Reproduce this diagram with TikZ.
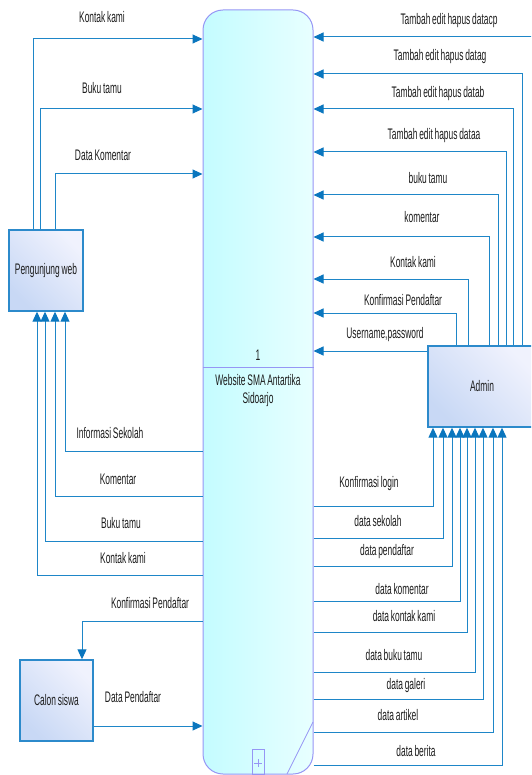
\documentclass[tikz,border=0pt]{standalone}
\usepackage{fontspec}
\setmainfont{Liberation Sans}[FakeStretch=0.55,WordSpace=0.75]
\usetikzlibrary{arrows.meta}
\definecolor{lineblue}{RGB}{30,134,200}
\definecolor{tipblue}{RGB}{10,118,190}
\definecolor{entA}{RGB}{200,216,245}
\definecolor{entB}{RGB}{240,242,253}
\definecolor{entborder}{RGB}{44,138,203}
\definecolor{procA}{RGB}{196,252,255}
\definecolor{procB}{RGB}{232,255,255}
\definecolor{procborder}{RGB}{150,150,245}
\definecolor{txt}{RGB}{28,28,28}
\tikzset{
  flow/.style={draw=lineblue, line width=1pt, -{Triangle[length=10pt,width=9pt,color=tipblue]}},
  lbl/.style={font=\fontsize{15.3}{18}\selectfont, text=txt, inner sep=0pt},
  entity/.style={draw=entborder, line width=1.4pt, left color=entA, right color=entB, shading angle=135,
    font=\fontsize{15.3}{18}\selectfont, text=txt, inner sep=0pt},
}
\begin{document}
\begin{tikzpicture}[x=1pt,y=-1pt]
\useasboundingbox (0,0) rectangle (531,775);
\clip (0,0) rectangle (531,775);
% process
\node[draw=procborder, line width=1pt, rounded corners=20pt, left color=procA, right color=procB,
  minimum width=110pt, minimum height=764pt, inner sep=0pt] (P) at (258,392) {};
\draw[procborder, line width=1pt] (P.west |- 0,367) -- (P.east |- 0,367);
\node[lbl] (pnum) at (258,355) {1};
\node[lbl, align=center] (pname) at (258,391) {Website SMA Antartika\\Sidoarjo};
\node[draw=procborder, line width=0.8pt, minimum width=12pt, minimum height=25pt, inner sep=0pt] (plus) at (258,761.5) {};
\draw[procborder, line width=0.8pt] (254,763) -- (262,763) (258,759) -- (258,767);
\draw[procborder, line width=0.8pt] (313,722) -- (287,774);
% entities
\node[entity, minimum width=74pt, minimum height=81pt] (PW) at (46,270.5) {Pengunjung web};
\node[entity, minimum width=73pt, minimum height=81pt] (CS) at (56.5,700.5) {Calon siswa};
\node[entity, minimum width=108pt, minimum height=81pt] (AD) at (482,386.5) {Admin};
% pengunjung web -> process
\draw[flow] (PW.north -| 33,0) |- (P.west |- 0,39);
\draw[flow] (PW.north -| 40,0) |- (P.west |- 0,109);
\draw[flow] (PW.north -| 55,0) |- (P.west |- 0,174);
\node[lbl] (l1) at (102,17) {Kontak kami};
\node[lbl] (l2) at (102,88) {Buku tamu};
\node[lbl] (l3) at (103,155) {Data Komentar};
% process -> pengunjung web
\draw[flow] (P.west |- 0,451) -| (PW.south -| 65,0);
\draw[flow] (P.west |- 0,496) -| (PW.south -| 55,0);
\draw[flow] (P.west |- 0,541) -| (PW.south -| 45,0);
\draw[flow] (P.west |- 0,575) -| (PW.south -| 37,0);
\node[lbl] (l4) at (110,433) {Informasi Sekolah};
\node[lbl] (l5) at (118,479) {Komentar};
\node[lbl] (l6) at (121,523) {Buku tamu};
\node[lbl] (l7) at (123,558) {Kontak kami};
% calon siswa
\draw[flow] (P.west |- 0,621) -| (CS.north -| 82,0);
\draw[flow] (CS.east |- 0,726) -- (P.west |- 0,726);
\node[lbl] (l8) at (150,603) {Konfirmasi Pendaftar};
\node[lbl] (l9) at (133,697) {Data Pendaftar};
% admin -> process
\draw[flow] (AD.north -| 534,0) |- (P.east |- 0,37);
\draw[flow] (AD.north -| 522,0) |- (P.east |- 0,74);
\draw[flow] (AD.north -| 513,0) |- (P.east |- 0,109);
\draw[flow] (AD.north -| 506,0) |- (P.east |- 0,152);
\draw[flow] (AD.north -| 498,0) |- (P.east |- 0,195);
\draw[flow] (AD.north -| 489,0) |- (P.east |- 0,237);
\draw[flow] (AD.north -| 468,0) |- (P.east |- 0,279);
\draw[flow] (AD.north -| 456,0) |- (P.east |- 0,313);
\draw[flow] (AD.west |- 0,351) -- (P.east |- 0,351);
\node[lbl] (r1) at (449,21) {Tambah edit hapus datacp};
\node[lbl] (r2) at (440,57) {Tambah edit hapus datag};
\node[lbl] (r3) at (438,94) {Tambah edit hapus datab};
\node[lbl] (r4) at (434,136) {Tambah edit hapus dataa};
\node[lbl] (r5) at (428,178) {buku tamu};
\node[lbl] (r6) at (422,217) {komentar};
\node[lbl] (r7) at (413,262) {Kontak kami};
\node[lbl] (r8) at (403,300) {Konfirmasi Pendaftar};
\node[lbl] (r9) at (385,335) {Username,password};
% process -> admin
\draw[flow] (P.east |- 0,506) -| (AD.south -| 433,0);
\draw[flow] (P.east |- 0,538) -| (AD.south -| 443,0);
\draw[flow] (P.east |- 0,566) -| (AD.south -| 452,0);
\draw[flow] (P.east |- 0,601) -| (AD.south -| 460,0);
\draw[flow] (P.east |- 0,632) -| (AD.south -| 467,0);
\draw[flow] (P.east |- 0,672) -| (AD.south -| 475,0);
\draw[flow] (P.east |- 0,699) -| (AD.south -| 483,0);
\draw[flow] (P.east |- 0,732) -| (AD.south -| 493,0);
\draw[flow] (P.east |- 0,765) -| (AD.south -| 502,0);
\node[lbl] (b1) at (369,484) {Konfirmasi login};
\node[lbl] (b2) at (378,521) {data sekolah};
\node[lbl] (b3) at (387,552) {data pendaftar};
\node[lbl] (b4) at (402,589) {data komentar};
\node[lbl] (b5) at (404,616) {data kontak kami};
\node[lbl] (b6) at (394,655) {data buku tamu};
\node[lbl] (b7) at (406,686) {data galeri};
\node[lbl] (b8) at (398,715) {data artikel};
\node[lbl] (b9) at (416,751) {data berita};
\end{tikzpicture}
\end{document}
